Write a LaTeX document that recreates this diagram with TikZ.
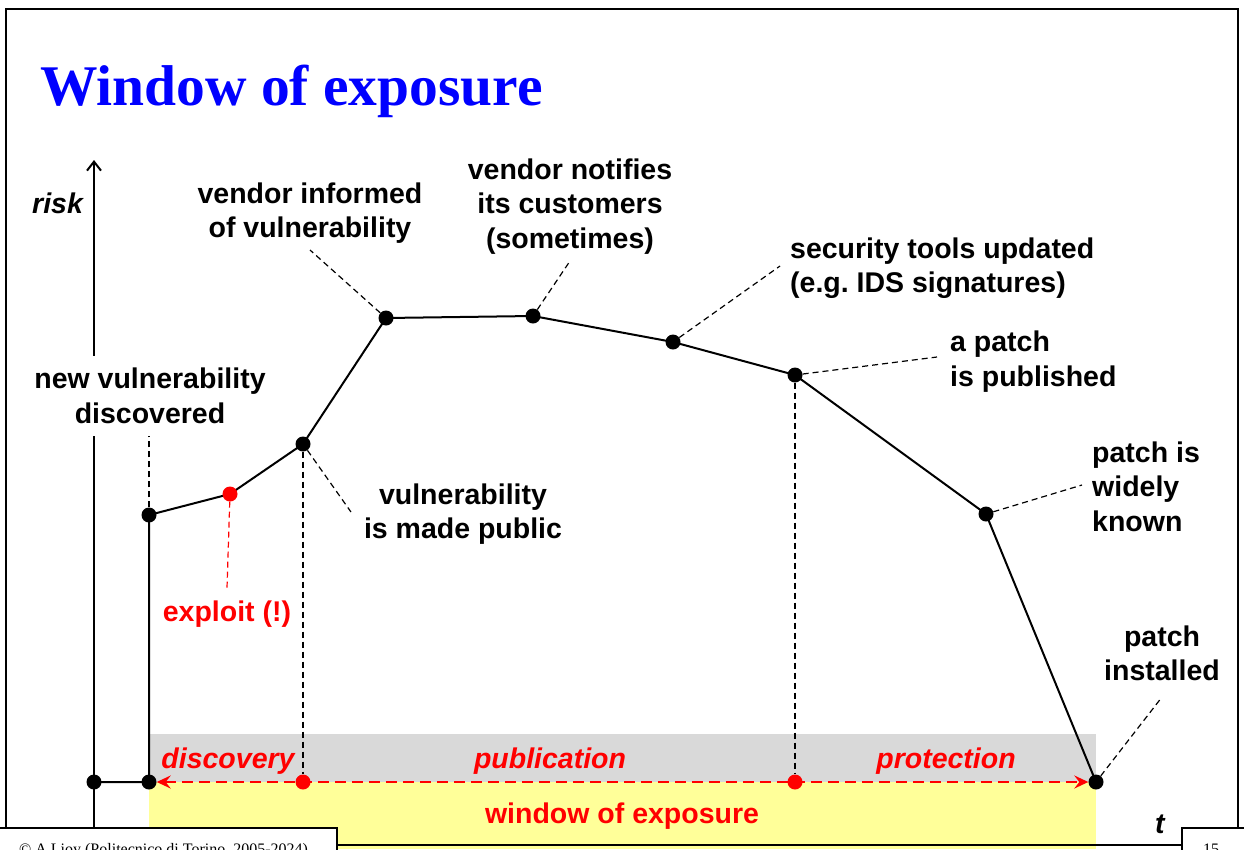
\documentclass[tikz,border=0pt]{standalone}
\usepackage{fontspec}
\setmainfont{Liberation Sans}
\newfontfamily\serifface{Liberation Serif}
\usetikzlibrary{arrows.meta}
\pgfdeclarelayer{back}
\pgfsetlayers{back,main}
\definecolor{bandgray}{HTML}{D9D9D9}
\definecolor{bandyellow}{HTML}{FFFF99}
\frenchspacing

\begin{document}
\begin{tikzpicture}[x=1pt,y=-1pt,
  dot/.style={circle,fill=black,inner sep=0pt,minimum size=15pt},
  reddot/.style={dot,fill=red},
  curve/.style={line width=2pt,line join=round},
  axis/.style={line width=2pt},
  leader/.style={line width=1.2pt,dash pattern=on 6pt off 4pt},
  redleader/.style={leader,draw=red},
  lbl/.style={font=\fontsize{28.5}{34.5}\selectfont\bfseries,inner sep=0pt},
  phase/.style={font=\fontsize{28.5}{34.5}\selectfont\bfseries\itshape,text=red,inner sep=0pt,anchor=base},
  footbox/.style={draw=black,line width=1.5pt,fill=white},
  foottext/.style={font=\serifface\fontsize{16}{18}\selectfont,inner sep=0pt,anchor=base west}
]
\useasboundingbox (0,0) rectangle (1244,849);

% slide frame
\draw[line width=2pt] (6,849) -- (6,9) -- (1238,9) -- (1238,849);

% title
\node[anchor=base west,inner sep=0pt,text=blue,
      font=\serifface\fontsize{57.5}{60}\selectfont\bfseries] (title) at (40,105) {Window of exposure};

% phase bands
\begin{pgfonlayer}{back}
  \fill[bandgray] (149,734) rectangle (1096,782);
  \fill[bandyellow] (149,782) rectangle (1096,849);
\end{pgfonlayer}

% axes
\coordinate (ytop) at (94,160);
\coordinate (ybot) at (94,849);
\coordinate (tstart) at (94,845);
\coordinate (tend) at (1200,845);
\begin{pgfonlayer}{back}
  \draw[axis,-{Straight Barb[length=9pt,width=14pt]}] (ybot) -- (ytop);
  \draw[axis,-{Straight Barb[length=9pt,width=14pt]}] (tstart) -- (tend);
\end{pgfonlayer}
\node[anchor=base west,inner sep=0pt,font=\fontsize{28.5}{34.5}\selectfont\bfseries\itshape] (risk) at (32,213) {risk};
\node[anchor=base west,inner sep=0pt,font=\fontsize{28.5}{34.5}\selectfont\bfseries\itshape] (tlabel) at (1155,833) {t};

% events on the risk curve
\node[dot] (p0) at (94,782) {};
\node[dot] (p1) at (149,782) {};
\node[dot] (nA) at (149,515) {};
\node[reddot] (nE) at (230,494) {};
\node[dot] (nB) at (303,444) {};
\node[dot] (nC) at (386,318) {};
\node[dot] (nD) at (533,316) {};
\node[dot] (nF) at (673,342) {};
\node[dot] (nG) at (795,375) {};
\node[dot] (nH) at (986,514) {};
\node[dot] (nI) at (1096,782) {};
\node[reddot] (r1) at (303,782) {};
\node[reddot] (r2) at (795,782) {};

% leader end points
\coordinate (eA) at (149,420);
\coordinate (eE) at (227,588);
\coordinate (eB) at (351,512);
\coordinate (eC) at (310,250);
\coordinate (eD) at (570,261);
\coordinate (eF) at (780,266);
\coordinate (eG) at (937,357);
\coordinate (eH) at (1082,485);
\coordinate (eI) at (1162,697);

\begin{pgfonlayer}{back}
  \draw[curve] (p0.center) -- (p1.center) -- (nA.center) -- (nE.center) -- (nB.center) -- (nC.center)
    -- (nD.center) -- (nF.center) -- (nG.center) -- (nH.center) -- (nI.center);
  \draw[leader] (nA) -- (eA);
  \draw[redleader] (nE) -- (eE);
  \draw[leader] (nB) -- (eB);
  \draw[leader] (nC) -- (eC);
  \draw[leader] (nD) -- (eD);
  \draw[leader] (nF) -- (eF);
  \draw[leader] (nG) -- (eG);
  \draw[leader] (nH) -- (eH);
  \draw[leader] (nI) -- (eI);
  \draw[leader] (nB) -- (r1);
  \draw[leader] (nG) -- (r2);
  % window of exposure
  \draw[red,line width=2.5pt,dash pattern=on 11pt off 6pt,
        {Stealth[length=14pt,width=13pt,inset=5pt]}-{Stealth[length=14pt,width=13pt,inset=5pt]}]
        (p1) -- (nI);
\end{pgfonlayer}

% labels
\node[lbl,anchor=north,align=center,fill=white,inner ysep=12pt,inner xsep=3pt] (tA) at (150,356) {new vulnerability\\discovered};
\node[lbl,anchor=base,text=red] (tE) at (227,621) {exploit (!)};
\node[lbl,anchor=north,align=center] (tB) at (463,483.5) {vulnerability\\is made public};
\node[lbl,anchor=north,align=center] (tC) at (310,182.5) {vendor informed\\of vulnerability};
\node[lbl,anchor=north,align=center] (tD) at (570,158.5) {vendor notifies\\its customers\\(sometimes)};
\node[lbl,anchor=north west,align=left] (tF) at (790,237.5) {security tools updated\\(e.g. IDS signatures)};
\node[lbl,anchor=north west,align=left] (tG) at (950,331) {a patch\\is published};
\node[lbl,anchor=north west,align=left] (tH) at (1092,441.5) {patch is\\widely\\known};
\node[lbl,anchor=north,align=center] (tI) at (1162,625.5) {patch\\installed};

% phases
\node[phase] (ph1) at (228,768) {discovery};
\node[phase] (ph2) at (550,768) {publication};
\node[phase] (ph3) at (946,768) {protection};
\node[lbl,anchor=base,text=red] (woe) at (622,823.5) {window of exposure};

% footer
\draw[footbox] (-2,828) rectangle (337,860);
\node[foottext] (credit) at (19,854) {© A.Lioy (Politecnico di Torino, 2005-2024)};
\draw[footbox] (1182,828) rectangle (1250,860);
\node[foottext] (pageno) at (1203,854) {15};
\end{tikzpicture}
\end{document}
